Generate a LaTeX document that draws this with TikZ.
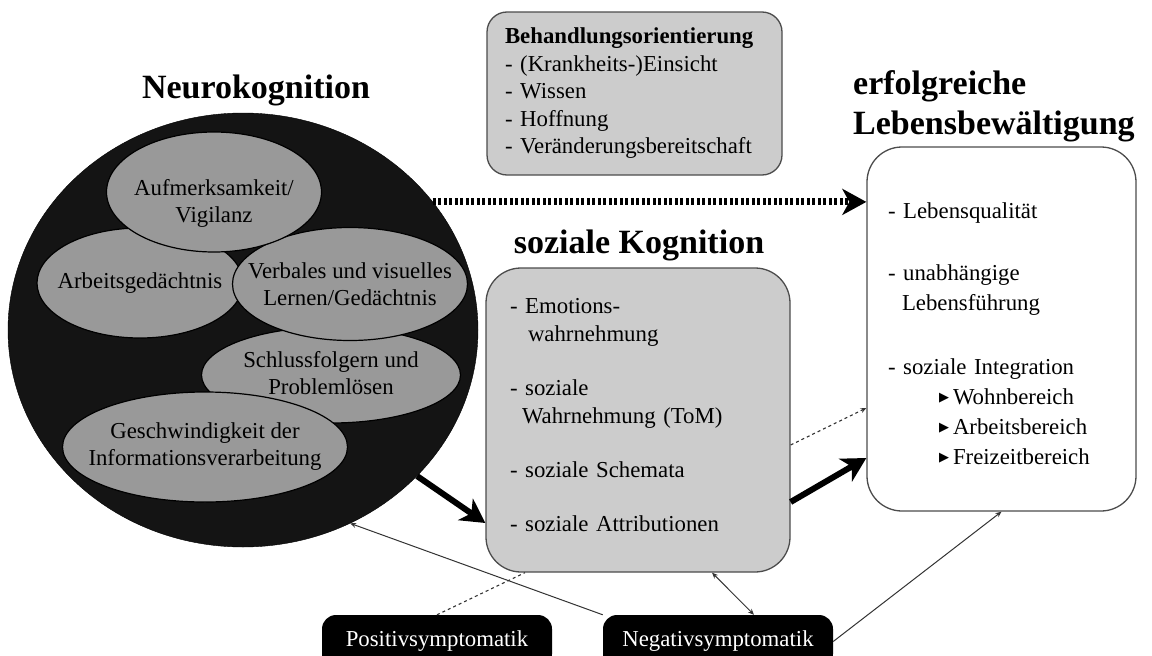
\documentclass[tikz,border=0pt]{standalone}
\usepackage{fontspec}
\setmainfont{Liberation Serif}
\newfontfamily\symbfont{DejaVu Sans}
\usetikzlibrary{shapes.geometric,arrows.meta,positioning}
\newcommand{\headtext}[1]{{\fontsize{34}{40}\selectfont\bfseries #1}}
\newcommand{\areaitem}[1]{\hspace*{51pt}\raisebox{3pt}{\symbfont\fontsize{13}{13}\selectfont ▶}\hspace{4pt}#1}

\begin{document}
\begin{tikzpicture}[
  x=1pt, y=-1pt,
  font=\fontsize{22.8}{28}\selectfont,
  ovalnode/.style={ellipse, draw=black, line width=1.2pt, fill=black!40, inner sep=0pt},
  ovaltext/.style={align=center, inner sep=0pt, font=\fontsize{22.8}{27}\selectfont},
  greybox/.style={rectangle, draw=black!70, line width=1.3pt, fill=black!20, inner sep=0pt, align=left},
  whitebox/.style={rectangle, draw=black!70, line width=1.3pt, fill=white, inner sep=0pt, align=left},
  symbox/.style={rectangle, fill=black, rounded corners=14pt, minimum width=230pt, minimum height=53pt, inner sep=0pt, text=white},
  bigarrow/.style={-{Stealth[length=24pt,width=26pt,inset=7pt]}, line width=6pt},
  dotarrow/.style={-{Stealth[length=24pt,width=26pt,inset=7pt]}, line width=7pt, dash pattern=on 3pt off 2.5pt},
  thinarrow/.style={-{Stealth[length=6pt,width=5pt]}, line width=1pt, black!80},
  thindots/.style={line width=1.1pt, black!80, dash pattern=on 3pt off 3pt},
]
\useasboundingbox (0,0) rectangle (1152,656);
\clip (0,0) rectangle (1152,656);

\node[ellipse, fill=black!92, draw=black, minimum width=470pt, minimum height=434pt] (n-circ) at (243,330) {};
\node[ovalnode, minimum width=259pt, minimum height=96pt] (n-schl) at (331,375) {};
\node[ovaltext] at ([yshift=2pt]n-schl.center) {Schlussfolgern und\\Problemlösen};
\node[ovalnode, minimum width=285pt, minimum height=110pt] (n-gesch) at (205,447) {};
\node[ovaltext] at (n-gesch.center) {Geschwindigkeit der\\Informationsverarbeitung};
\node[ovalnode, minimum width=206pt, minimum height=110pt] (n-arb) at (140,283) {};
\node[ovaltext] at (n-arb.center) {Arbeitsgedächtnis};
\node[ovalnode, minimum width=235pt, minimum height=113pt] (n-verb) at (350,284) {};
\node[ovaltext] at (n-verb.center) {Verbales und visuelles\\Lernen/Gedächtnis};
\node[ovalnode, minimum width=215pt, minimum height=120pt] (n-auf) at (214,192) {};
\node[ovaltext] at ([yshift=-11pt]n-auf.center) {Aufmerksamkeit/\\Vigilanz};
\node[anchor=base] (n-title) at (256,98) {\headtext{Neurokognition}};

\node[greybox, rounded corners=20pt, minimum width=295pt, minimum height=163pt, text width=259pt, font=\fontsize{22.8}{27.5}\selectfont] (b-box) at (634.5,93.5) {\textbf{Behandlungsorientierung}\\- (Krankheits-)Einsicht\\- Wissen\\- Hoffnung\\- Veränderungsbereitschaft};

\node[anchor=base] (s-title) at (639,253) {\headtext{soziale Kognition}};
\node[greybox, rounded corners=35pt, minimum width=304pt, minimum height=304pt, text width=256pt] (s-box) at (638,420) {- Emotions-\\\hspace*{18pt}wahrnehmung\\[26pt]- soziale\\\hspace*{12pt}Wahrnehmung (ToM)\\[26pt]- soziale Schemata\\[26pt]- soziale Attributionen\rule[-10pt]{0pt}{10pt}};

\node[anchor=north west, inner sep=0pt, align=left, font=\fontsize{34}{40}\selectfont\bfseries] (l-title) at (853,70) {erfolgreiche\\Lebensbewältigung};
\node[whitebox, rounded corners=35pt, minimum width=269pt, minimum height=364pt, text width=227pt, font=\fontsize{22.8}{30}\selectfont] (l-box) at (1001.5,329) {\rule{0pt}{26pt}- Lebensqualität\\[32pt]- unabhängige\\\hspace*{14pt}Lebensführung\\[34pt]- soziale Integration\\\areaitem{Wohnbereich}\\\areaitem{Arbeitsbereich}\\\areaitem{Freizeitbereich}};

\node[symbox] (p-sym) at (437,641.5) {Positivsymptomatik};
\node[symbox] (m-sym) at (718,641.5) {Negativsymptomatik};

\draw[dotarrow] (n-circ.34) -- (n-circ.34 -| l-box.west);
\draw[bigarrow] (n-circ.-40) -- ([yshift=-103pt]s-box.west);
\draw[bigarrow] ([yshift=-82pt]s-box.east) -- ([yshift=-129pt]l-box.west);
\draw[thindots, -{Stealth[length=6pt,width=5pt]}] ([yshift=-25pt]s-box.east) -- ([yshift=-79pt]l-box.west);
\draw[thinarrow] (m-sym.north west) -- (n-circ.-61);
\draw[thinarrow, {Stealth[length=6pt,width=5pt]}-{Stealth[length=6pt,width=5pt]}] ([xshift=74pt]s-box.south) -- ([xshift=36pt]m-sym.north);
\draw[thindots] (p-sym.north) -- ([xshift=-113pt]s-box.south);
\draw[thinarrow] (m-sym.east) -- (l-box.south);

\end{tikzpicture}
\end{document}
